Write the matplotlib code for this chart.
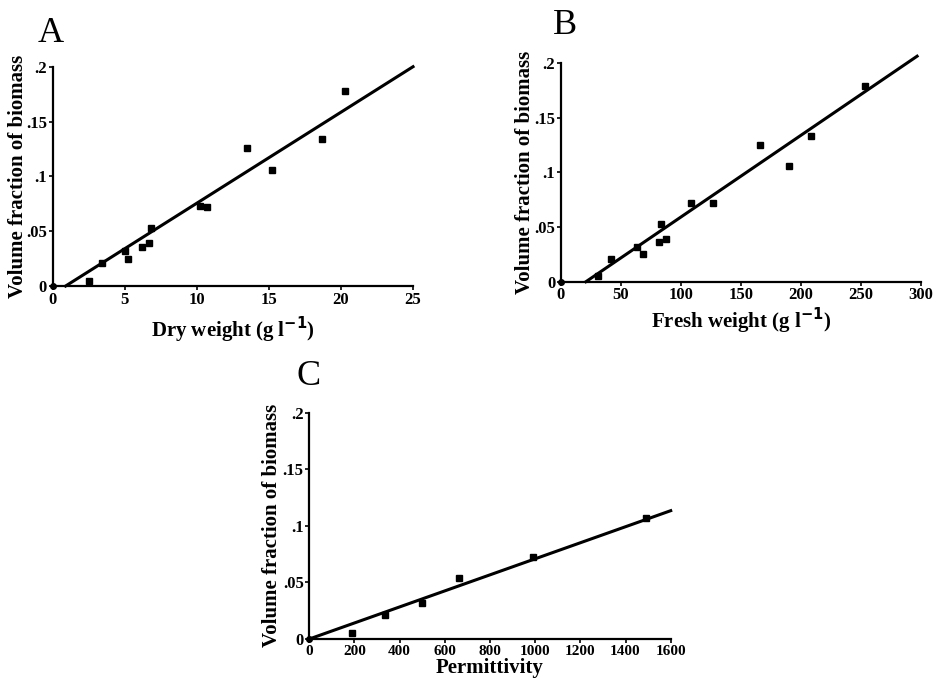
import matplotlib
matplotlib.use("Agg")
import matplotlib.pyplot as plt
import numpy as np

# Panel A: dry weight vs volume fraction
dry_weight = [2.5, 3.4, 5.05, 5.2, 6.2, 6.7, 6.8, 10.2, 10.7, 13.5, 15.2, 18.7, 20.3]
vf_a = [0.005, 0.021, 0.032, 0.025, 0.036, 0.039, 0.053, 0.073, 0.072, 0.126, 0.106, 0.134, 0.178]
fit_a_x = [0.9, 25]
fit_a_y = [0.0, 0.2]

# Panel B: fresh weight vs volume fraction
fresh_weight = [31.4, 41.7, 63.3, 68.3, 81.9, 83.6, 87.5, 108.6, 126.9, 166.1, 190.3, 208.6, 253.6]
vf_b = [0.005, 0.021, 0.032, 0.025, 0.036, 0.053, 0.039, 0.072, 0.072, 0.125, 0.106, 0.133, 0.179]
fit_b_x = [21, 297]
fit_b_y = [0.0, 0.206]

# Panel C: permittivity vs volume fraction
permittivity = [190, 335, 497, 663, 989, 1489]
vf_c = [0.005, 0.021, 0.0315, 0.0536, 0.0728, 0.107]
fit_c_x = [0, 1600]
fit_c_y = [0.0, 0.1134]

yticks = [0, 0.05, 0.1, 0.15, 0.2]
ytick_labels = ["0", ".05", ".1", ".15", ".2"]
xticks_a = [0, 5, 10, 15, 20, 25]
xticks_b = [0, 50, 100, 150, 200, 250, 300]
xticks_c = [0, 200, 400, 600, 800, 1000, 1200, 1400, 1600]

FONT = "Liberation Serif"

fig = plt.figure(figsize=(9.37, 6.8), dpi=100)


def style(ax, xticks, xlim, xlabel, ylabelpad, xlabelpad, tick_fs=12):
    for s in ["top", "right"]:
        ax.spines[s].set_visible(False)
    for s in ["left", "bottom"]:
        ax.spines[s].set_linewidth(1.6)
    ax.set_xlim(xlim)
    ax.set_ylim(0, 0.2)
    ax.set_xticks(xticks)
    ax.set_xticklabels([str(t) for t in xticks], fontfamily=FONT, fontweight="bold", fontsize=tick_fs)
    ax.set_yticks(yticks)
    ax.set_yticklabels(ytick_labels, fontfamily=FONT, fontweight="bold", fontsize=12)
    ax.tick_params(axis="both", direction="out", length=3, width=1.2)
    ax.tick_params(axis="y", pad=1)
    ax.tick_params(axis="x", pad=1)
    ax.set_ylabel("Volume fraction of biomass", fontfamily=FONT, fontweight="bold",
                  fontsize=15, labelpad=ylabelpad)
    ax.set_xlabel(xlabel, fontfamily=FONT, fontweight="bold", fontsize=15, labelpad=xlabelpad)
    ax.plot([0], [0], "o", color="black", markersize=4, clip_on=False, zorder=5)


axA = fig.add_axes([0.0562, 0.5794, 0.3846, 0.3225])
axA.plot(fit_a_x, fit_a_y, color="black", linewidth=2.2, clip_on=False)
axA.plot(dry_weight, vf_a, "s", color="black", markersize=5, clip_on=False)
style(axA, xticks_a, (0, 25), r"Dry weight (g l$^{\mathbf{-1}}$)", -1.5, 5)
fig.text(0.054, 0.95, "A", fontfamily=FONT, fontsize=26, ha="center", va="center")

axB = fig.add_axes([0.5984, 0.5857, 0.3842, 0.322])
axB.plot(fit_b_x, fit_b_y, color="black", linewidth=2.2, clip_on=False)
axB.plot(fresh_weight, vf_b, "s", color="black", markersize=5, clip_on=False)
style(axB, xticks_b, (0, 300), r"Fresh weight (g l$^{\mathbf{-1}}$)", -0.5, 2)
fig.text(0.603, 0.963, "B", fontfamily=FONT, fontsize=26, ha="center", va="center")

axC = fig.add_axes([0.3301, 0.0603, 0.3857, 0.3328])
axC.plot(fit_c_x, fit_c_y, color="black", linewidth=2.2, clip_on=False)
axC.plot(permittivity, vf_c, "s", color="black", markersize=5, clip_on=False)
style(axC, xticks_c, (0, 1600), "Permittivity", 0.5, 0, tick_fs=11)
fig.text(0.329, 0.447, "C", fontfamily=FONT, fontsize=26, ha="center", va="center")

fig.savefig("out.png", dpi=100, facecolor="white")
